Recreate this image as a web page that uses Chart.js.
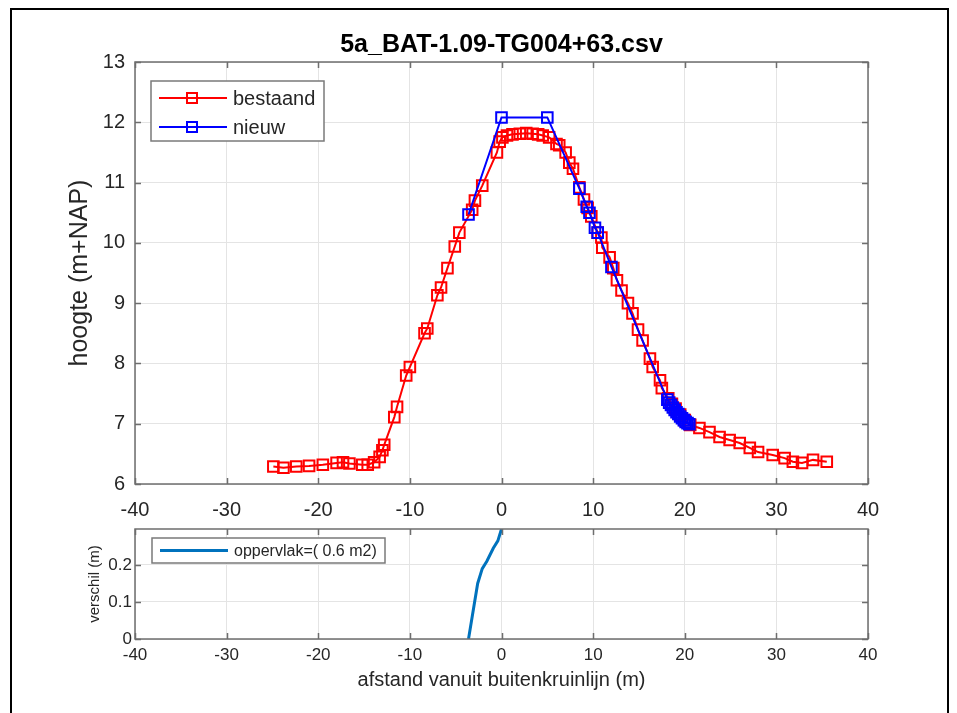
<!DOCTYPE html>
<html>
<head>
<meta charset="utf-8">
<script src="https://cdn.jsdelivr.net/npm/chart.js@4/dist/chart.umd.min.js"></script>
<style>
  html, body { margin: 0; padding: 0; background: #fff; }
  #figuur { position: relative; width: 957px; height: 713px; background: #fff; }
  #figuur canvas { position: absolute; left: 0; top: 0; }
  #rand { position: absolute; left: 10px; top: 8px; width: 939px; height: 720px; border: 2px solid #000; box-sizing: border-box; }
</style>
</head>
<body>
<div id="figuur">
  <div id="rand"></div>
  <canvas id="profiel" width="957" height="713"></canvas>
  <canvas id="verschil" width="957" height="713"></canvas>
</div>
<script>
// profiel: bestaand dijkprofiel (afstand t.o.v. buitenkruinlijn, hoogte m+NAP)
const bestaandX = [-24.9, -23.8, -22.4, -21.0, -19.5, -18.0, -17.3, -16.6, -15.2, -14.6, -13.9, -13.3, -13.0, -12.8,
  -11.7, -11.4, -10.4, -10.0, -8.4, -8.1, -7.0, -6.6, -5.9, -5.1, -4.6, -3.2, -2.9, -2.1, -0.5, -0.2,
  0.1, 0.6, 1.2, 2.0, 2.7, 3.4, 4.0, 4.5, 5.2, 6.0, 6.3, 7.0, 7.4, 7.8, 8.5, 9.0, 9.4, 9.8, 10.5, 10.9,
  11.0, 11.8, 12.2, 12.6, 13.1, 13.8, 14.3, 14.9, 15.4, 16.2, 16.5, 17.3, 17.5, 18.2, 18.6, 19.0, 19.5,
  20.0, 20.6, 21.6, 22.7, 23.8, 24.9, 26.0, 27.1, 28.0, 29.6, 30.9, 31.8, 32.8, 34.0, 35.5];
const bestaandY = [6.29, 6.27, 6.29, 6.30, 6.32, 6.35, 6.36, 6.34, 6.32, 6.32, 6.36, 6.45, 6.56, 6.65,
  7.11, 7.28, 7.80, 7.94, 8.50, 8.58, 9.13, 9.26, 9.58, 9.94, 10.17, 10.55, 10.70, 10.95, 11.50, 11.68,
  11.75, 11.78, 11.80, 11.81, 11.82, 11.81, 11.80, 11.78, 11.75, 11.64, 11.62, 11.50, 11.33, 11.23, 10.92, 10.72, 10.58, 10.44, 10.17, 10.09,
  9.92, 9.76, 9.58, 9.38, 9.21, 9.00, 8.83, 8.56, 8.38, 8.08, 7.94, 7.72, 7.59, 7.42, 7.33, 7.25, 7.15,
  7.06, 6.98, 6.93, 6.86, 6.78, 6.73, 6.68, 6.60, 6.53, 6.48, 6.43, 6.37, 6.35, 6.40, 6.37];

// nieuw profiel
const nieuwX = [-3.6, 0.0, 5.0, 8.5, 9.3, 9.6, 10.2, 10.5, 12.0, 18.1, 18.3, 18.5, 18.7, 18.9, 19.1, 19.3, 19.5, 19.7, 19.9, 20.1, 20.3, 20.5];
const nieuwY = [10.47, 12.08, 12.08, 10.90, 10.60, 10.50, 10.25, 10.17, 9.60, 7.40, 7.35, 7.31, 7.27, 7.23, 7.19, 7.16, 7.12, 7.09, 7.06, 7.03, 7.01, 6.99];

// verschil nieuw - bestaand
const verschilX = [-3.6, -3.2, -2.6, -2.1, -1.6, -0.9, -0.4, 0.0];
const verschilY = [0.0, 0.06, 0.15, 0.19, 0.21, 0.245, 0.265, 0.297];

const afstandTicks = [-40, -30, -20, -10, 0, 10, 20, 30, 40];
const hoogteTicks = [6, 7, 8, 9, 10, 11, 12, 13];
const verschilTicks = [0, 0.1, 0.2];

const titel = '5a_BAT-1.09-TG004+63.csv';
const oppervlakLabel = 'oppervlak=( 0.6 m2)';

Chart.defaults.font.family = '"Liberation Sans", Arial, sans-serif';
Chart.defaults.color = '#262626';
Chart.defaults.animation = false;

const punten = (xs, ys) => xs.map((x, i) => ({ x: x, y: ys[i] }));

// assenkader met naar binnen gerichte tickstreepjes (ook boven en rechts)
const kader = {
  id: 'kader',
  afterDraw(chart) {
    const { ctx, chartArea: a, scales } = chart;
    const len = 6;
    ctx.save();
    ctx.strokeStyle = '#6e6e6e';
    ctx.lineWidth = 1.5;
    ctx.beginPath();
    scales.x.ticks.forEach(t => {
      const px = Math.round(scales.x.getPixelForValue(t.value)) + 0.5;
      ctx.moveTo(px, a.bottom); ctx.lineTo(px, a.bottom - len);
      ctx.moveTo(px, a.top); ctx.lineTo(px, a.top + len);
    });
    scales.y.ticks.forEach(t => {
      const py = Math.round(scales.y.getPixelForValue(t.value)) + 0.5;
      ctx.moveTo(a.left, py); ctx.lineTo(a.left + len, py);
      ctx.moveTo(a.right, py); ctx.lineTo(a.right - len, py);
    });
    ctx.stroke();
    ctx.strokeRect(a.left, a.top, a.right - a.left, a.bottom - a.top);
    ctx.restore();
  }
};

// legenda binnen het assenvlak, linksboven
function legenda(id, rect, fontSize, rij) {
  return {
    id: id,
    afterDraw(chart) {
      const { ctx, chartArea: a } = chart;
      const [dx, dy, w, h] = rect;
      const x0 = a.left + dx, y0 = a.top + dy;
      ctx.save();
      ctx.fillStyle = '#fff';
      ctx.fillRect(x0, y0, w, h);
      ctx.strokeStyle = '#7a7a7a';
      ctx.lineWidth = 1.5;
      ctx.strokeRect(x0, y0, w, h);
      ctx.font = fontSize + 'px "Liberation Sans", Arial, sans-serif';
      ctx.textBaseline = 'middle';
      chart.data.datasets.slice().sort((p, q) => q.order - p.order).forEach((ds, i) => {
        const y = y0 + rij[0] + i * rij[1];
        ctx.strokeStyle = ds.borderColor;
        ctx.lineWidth = ds.borderWidth;
        ctx.beginPath();
        ctx.moveTo(x0 + 8, y); ctx.lineTo(x0 + 76, y);
        ctx.stroke();
        if (ds.pointRadius > 0) {
          ctx.lineWidth = ds.pointBorderWidth;
          ctx.strokeRect(x0 + 36, y - 5, 10, 10);
        }
        ctx.fillStyle = '#262626';
        ctx.fillText(ds.label, x0 + 82, y + 1);
      });
      ctx.restore();
    }
  };
}

const rasterKleur = '#e4e4e4';

new Chart(document.getElementById('profiel'), {
  type: 'scatter',
  data: {
    datasets: [
      {
        label: 'bestaand',
        data: punten(bestaandX, bestaandY),
        showLine: true,
        borderColor: '#ff0000',
        borderWidth: 2,
        pointStyle: 'rect',
        pointRadius: 7.5,
        pointBorderWidth: 2,
        pointBorderColor: '#ff0000',
        pointBackgroundColor: 'rgba(0,0,0,0)',
        order: 1
      },
      {
        label: 'nieuw',
        data: punten(nieuwX, nieuwY),
        showLine: true,
        borderColor: '#0000ff',
        borderWidth: 2,
        pointStyle: 'rect',
        pointRadius: 7.5,
        pointBorderWidth: 2,
        pointBorderColor: '#0000ff',
        pointBackgroundColor: 'rgba(0,0,0,0)',
        order: 0
      }
    ]
  },
  options: {
    responsive: false,
    layout: { padding: { left: 0, right: 89, top: 0, bottom: 189 } },
    plugins: {
      legend: { display: false },
      tooltip: { enabled: false },
      title: {
        display: true,
        fullSize: false,
        text: titel,
        color: '#000',
        font: { size: 25, weight: 'bold' },
        padding: { top: 30, bottom: 2 }
      }
    },
    scales: {
      x: {
        type: 'linear', min: -40, max: 40,
        afterBuildTicks: s => { s.ticks = afstandTicks.map(v => ({ value: v })); },
        afterFit: s => { s.height = 40; },
        ticks: { font: { size: 20 }, padding: 14, maxRotation: 0 },
        grid: { color: rasterKleur, lineWidth: 1, drawTicks: false },
        border: { display: false }
      },
      y: {
        type: 'linear', min: 6, max: 13,
        afterBuildTicks: s => { s.ticks = hoogteTicks.map(v => ({ value: v })); },
        afterFit: s => { s.width = 135; },
        ticks: { font: { size: 20 }, padding: 10 },
        grid: { color: rasterKleur, lineWidth: 1, drawTicks: false },
        border: { display: false },
        title: { display: true, text: 'hoogte (m+NAP)', font: { size: 25 }, padding: { top: 65, bottom: 0 } }
      }
    }
  },
  plugins: [kader, legenda('legendaProfiel', [16, 19, 173, 60], 20, [17, 29])]
});

new Chart(document.getElementById('verschil'), {
  type: 'scatter',
  data: {
    datasets: [
      {
        label: oppervlakLabel,
        data: punten(verschilX, verschilY),
        showLine: true,
        borderColor: '#0072bd',
        borderWidth: 3,
        pointRadius: 0,
        order: 0
      }
    ]
  },
  options: {
    responsive: false,
    layout: { padding: { left: 0, right: 89, top: 529, bottom: 0 } },
    plugins: { legend: { display: false }, tooltip: { enabled: false } },
    scales: {
      x: {
        type: 'linear', min: -40, max: 40,
        afterBuildTicks: s => { s.ticks = afstandTicks.map(v => ({ value: v })); },
        afterFit: s => { s.height = 74; },
        ticks: { font: { size: 17 }, padding: 6, maxRotation: 0 },
        grid: { color: rasterKleur, lineWidth: 1, drawTicks: false },
        border: { display: false },
        title: { display: true, text: 'afstand vanuit buitenkruinlijn (m)', font: { size: 20 }, padding: { top: 0, bottom: 21 } }
      },
      y: {
        type: 'linear', min: 0, max: 0.297,
        afterBuildTicks: s => { s.ticks = verschilTicks.map(v => ({ value: v })); },
        afterFit: s => { s.width = 135; },
        ticks: { font: { size: 17 }, padding: 3 },
        grid: { color: rasterKleur, lineWidth: 1, drawTicks: false },
        border: { display: false },
        title: { display: true, text: 'verschil (m)', font: { size: 15 }, padding: { top: 86, bottom: 0 } }
      }
    }
  },
  plugins: [kader, legenda('legendaVerschil', [17, 9, 233, 25], 16, [12.5, 0])]
});
</script>
</body>
</html>
